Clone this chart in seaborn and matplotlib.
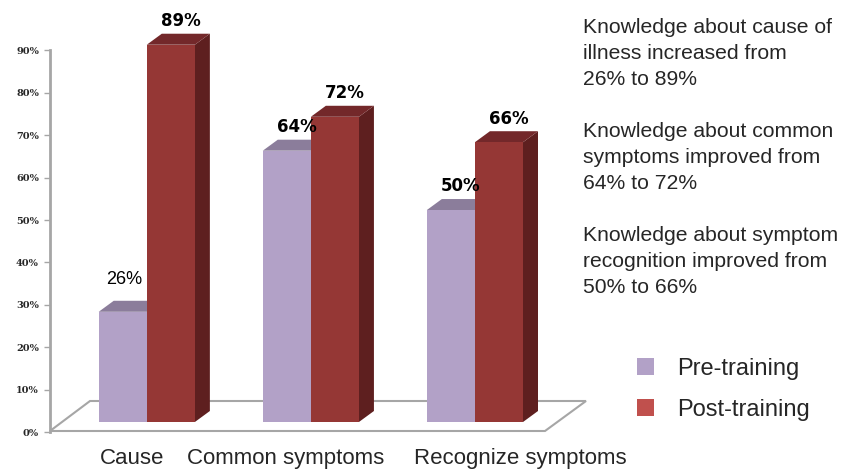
import matplotlib
matplotlib.use("Agg")
import matplotlib.pyplot as plt
import matplotlib.transforms as mtransforms
from matplotlib.patches import Polygon, Patch
import pandas as pd
import seaborn as sns

# data
categories = ["Cause", "Common symptoms", "Recognize symptoms"]
pre_training = [0.26, 0.64, 0.50]
post_training = [0.89, 0.72, 0.66]
series_names = ["Pre-training", "Post-training"]
y_ticks = [0.0, 0.1, 0.2, 0.3, 0.4, 0.5, 0.6, 0.7, 0.8, 0.9]
notes = [
    "Knowledge about cause of\nillness increased from\n26% to 89%",
    "Knowledge about common\nsymptoms improved from\n64% to 72%",
    "Knowledge about symptom\nrecognition improved from\n50% to 66%",
]

# colours: front, top, side
FACE = {"Pre-training": ("#B2A1C7", "#8B7D9B", "#7E7090"),
        "Post-training": ("#953735", "#73282A", "#5E1F1F")}
LEGEND_COLORS = ["#B2A1C7", "#C0504D"]

sns.set_theme(style="white")
plt.rcParams["font.family"] = ["Liberation Sans", "DejaVu Sans"]

df = pd.DataFrame({
    "category": categories * 2,
    "value": pre_training + post_training,
    "series": [series_names[0]] * 3 + [series_names[1]] * 3,
})

fig = plt.figure(figsize=(8.43, 4.73), dpi=100)
W, H = 843, 473
ax_l, ax_r, ax_b, ax_t = 50, 586, 422, 32
ax = fig.add_axes([ax_l / W, (H - ax_b) / H, (ax_r - ax_l) / W, (ax_b - ax_t) / H])

sns.barplot(data=df, x="category", y="value", hue="series",
            palette=[FACE[s][0] for s in series_names],
            width=0.586, gap=0, saturation=1, legend=False, ax=ax)

ax.set_xlim(-0.59, 2.677)
ax.set_ylim(0, 0.92)
xl, xr = ax.get_xlim()
yl, yh = ax.get_ylim()
px_x = (xr - xl) / (ax_r - ax_l)
px_y = (yh - yl) / (ax_b - ax_t)

# pseudo 3D faces
dx, dy = 15 * px_x, 11 * px_y
for k, (cont, name) in enumerate(zip(ax.containers, series_names)):
    _, top_c, side_c = FACE[name]
    for bar in cont:
        x0, w, h = bar.get_x(), bar.get_width(), bar.get_height()
        bar.set_zorder(2 + 2 * k)
        bar.set_edgecolor("none")
        side = Polygon([(x0 + w, 0), (x0 + w + dx, dy), (x0 + w + dx, h + dy), (x0 + w, h)],
                       closed=True, facecolor=side_c, edgecolor="none", zorder=1.5 + 2 * k)
        top = Polygon([(x0, h), (x0 + dx, h + dy), (x0 + w + dx, h + dy), (x0 + w, h)],
                      closed=True, facecolor=top_c, edgecolor="none", zorder=1.5 + 2 * k)
        ax.add_patch(side)
        ax.add_patch(top)

# value labels
for k, cont in enumerate(ax.containers):
    for i, bar in enumerate(cont):
        val = bar.get_height()
        first = (k == 0 and i == 0)
        ax.annotate(f"{val * 100:.0f}%",
                    (bar.get_x() + bar.get_width() / 2, val),
                    xytext=(1 if first else 7, 23 if first else 17), textcoords="offset points",
                    ha="center", va="center",
                    fontsize=13 if first else 12,
                    fontweight="normal" if first else "bold",
                    family=["Liberation Sans"] if first else ["DejaVu Sans"],
                    color="black", zorder=10, annotation_clip=False)

# floor
yf, yb = -9 * px_y, 21 * px_y
floor = Polygon([(xl, yf), (xl + 495 * px_x, yf), (xr, yb), (xl + 40 * px_x, yb)],
                closed=True, facecolor="none", edgecolor="#A6A6A6", linewidth=1.5,
                clip_on=False, zorder=1)
ax.add_patch(floor)

# axes styling
sns.despine(ax=ax, top=True, right=True, bottom=True, left=False)
ax.spines["left"].set_color("#A6A6A6")
ax.spines["left"].set_linewidth(2)
ax.spines["left"].set_bounds(-10 * px_y, 0.9 - 10 * px_y)
ax.set_yticks(y_ticks)
ax.set_yticklabels([f"{t * 100:.0f}%" for t in y_ticks], fontsize=7, fontweight="bold",
                   family=["DejaVu Serif"])
ax.tick_params(axis="y", length=4, width=1, color="#A6A6A6", left=True, pad=4)
shift = mtransforms.ScaledTranslation(0, -10 / 100, fig.dpi_scale_trans)
for tick in ax.yaxis.get_major_ticks():
    tick.tick1line.set_transform(tick.tick1line.get_transform() + shift)
    tick.label1.set_transform(tick.label1.get_transform() + shift)

ax.set_xlabel("")
ax.set_ylabel("")
ax.tick_params(axis="x", length=0, pad=19, labelsize=16)
for lab, off in zip(ax.get_xticklabels(), [-15, -25, 45]):
    lab.set_transform(lab.get_transform() +
                      mtransforms.ScaledTranslation(off / 100, 0, fig.dpi_scale_trans))

# legend
handles = [Patch(facecolor=c, edgecolor="none") for c in LEGEND_COLORS]
fig.legend(handles, series_names, loc="upper left", bbox_to_anchor=(637 / W, 1 - 358 / H),
           frameon=False, fontsize=17, handlelength=0.72, handleheight=0.72,
           handletextpad=1.0, labelspacing=0.8, borderpad=0, borderaxespad=0)

# notes
for i, note in enumerate(notes):
    fig.text(583 / W, 1 - (18 + i * 104) / H, note, ha="left", va="top",
             fontsize=15.2, linespacing=1.48)

fig.savefig("out.png", dpi=100)
